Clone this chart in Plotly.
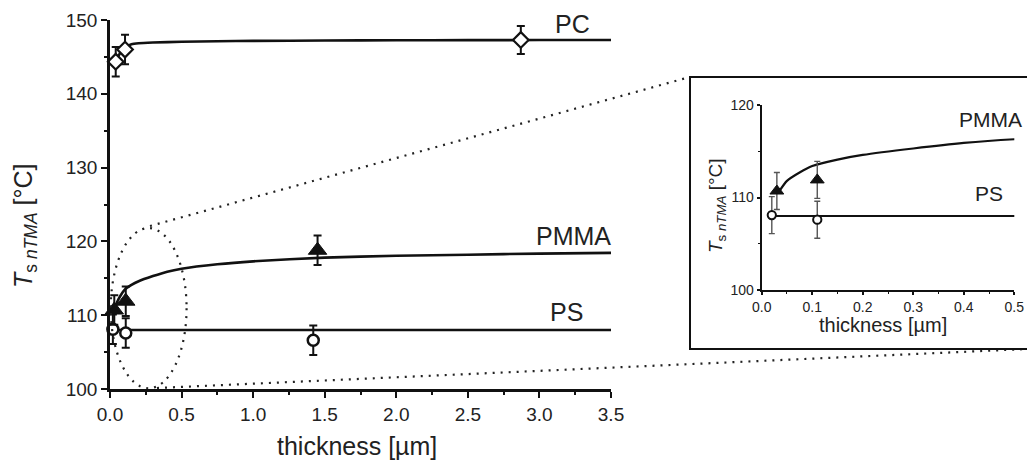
import plotly.graph_objects as go

# ---- measured softening temperatures (nano-TMA) ----
ps_x = [0.02, 0.11, 1.42]
ps_y = [108.1, 107.6, 106.6]
ps_err = [2.0, 2.0, 2.0]

pmma_x = [0.03, 0.11, 1.45]
pmma_y = [110.7, 111.9, 118.8]
pmma_err = [2.0, 2.0, 2.0]

pc_x = [0.04, 0.105, 2.87]
pc_y = [144.35, 146.0, 147.3]
pc_err = [2.0, 2.0, 1.9]

# ---- fitted curves ----
pc_fit_x = [0.04, 0.07, 0.1, 0.15, 0.2, 0.3, 0.5, 0.75, 1.0, 1.5, 2.0, 2.5, 3.0, 3.5]
pc_fit_y = [144.4, 145.5, 146.2, 146.7, 146.85, 146.95, 147.05, 147.12, 147.17,
            147.22, 147.25, 147.27, 147.28, 147.3]

pmma_fit_x = [0.035, 0.05, 0.075, 0.1, 0.15, 0.2, 0.3, 0.4, 0.5, 0.75, 1.0,
              1.5, 2.0, 2.5, 3.0, 3.5]
pmma_fit_y = [110.7, 111.8, 112.7, 113.4, 114.1, 114.6, 115.3, 115.9, 116.3,
              116.9, 117.3, 117.8, 118.05, 118.2, 118.35, 118.45]

ps_fit_x = [0.02, 3.5]
ps_fit_y = [108.0, 108.0]

main_xticks = [0.0, 0.5, 1.0, 1.5, 2.0, 2.5, 3.0, 3.5]
main_yticks = [100, 110, 120, 130, 140, 150]
inset_xticks = [0.0, 0.1, 0.2, 0.3, 0.4, 0.5]
inset_yticks = [100, 110, 120]

W, H = 1027, 465
FONT = "Liberation Sans, Arial, sans-serif"
INK = "#111111"
TXT = "#222222"


def px(v):
    return v / W


def py(v):
    return 1 - v / H


fig = go.Figure()


def add_set(xa, ya, main):
    clip = not main
    lw = 2.6 if main else 2.2
    eb_w = 2.0 if main else 1.4
    eb_c = INK if main else "#555555"
    cap = 4 if main else 3
    sc = 1.0 if main else 0.75
    # fitted lines
    for fx, fy in ((pc_fit_x, pc_fit_y), (pmma_fit_x, pmma_fit_y), (ps_fit_x, ps_fit_y)):
        fig.add_trace(go.Scatter(x=fx, y=fy, mode="lines", xaxis=xa, yaxis=ya,
                                 line=dict(color=INK, width=lw, shape="spline", smoothing=0.6),
                                 cliponaxis=True, showlegend=False, hoverinfo="skip"))
    # PS: open circles
    fig.add_trace(go.Scatter(x=ps_x, y=ps_y, mode="markers", xaxis=xa, yaxis=ya,
                             error_y=dict(type="data", array=ps_err, color=eb_c,
                                          thickness=eb_w, width=cap),
                             marker=dict(symbol="circle", size=11 * sc, color="white",
                                         line=dict(color=INK, width=2.5 if main else 2)),
                             cliponaxis=clip, showlegend=False))
    # PMMA: filled triangles
    fig.add_trace(go.Scatter(x=pmma_x, y=pmma_y, mode="markers", xaxis=xa, yaxis=ya,
                             error_y=dict(type="data", array=pmma_err, color=eb_c,
                                          thickness=eb_w, width=cap),
                             marker=dict(symbol="triangle-up", size=16 * sc, color=INK,
                                         line=dict(color=INK, width=1)),
                             cliponaxis=clip, showlegend=False))
    if main:
        # PC: open diamonds
        fig.add_trace(go.Scatter(x=pc_x, y=pc_y, mode="markers", xaxis=xa, yaxis=ya,
                                 error_y=dict(type="data", array=pc_err, color=eb_c,
                                              thickness=eb_w, width=cap),
                                 marker=dict(symbol="diamond", size=12, color="white",
                                             line=dict(color=INK, width=2.2)),
                                 cliponaxis=clip, showlegend=False))


add_set("x", "y", True)
add_set("x2", "y2", False)

axis_common = dict(showline=True, linecolor=INK, ticks="outside", tickcolor=INK,
                   showgrid=False, zeroline=False, mirror=False, automargin=False)

fig.update_layout(
    width=W, height=H,
    margin=dict(l=0, r=0, t=0, b=0, pad=0, autoexpand=False),
    paper_bgcolor="white", plot_bgcolor="rgba(0,0,0,0)",
    font=dict(family=FONT, color=TXT),
    xaxis=dict(domain=[px(110), px(611)], range=[0, 3.5], tickvals=main_xticks,
               ticktext=[f"{v:.1f}" for v in main_xticks], linewidth=2.6, ticklen=6,
               tickwidth=2, tickfont=dict(size=19, color=TXT), anchor="y",
               minor=dict(ticks="outside", dtick=0.25, ticklen=3.5, tickwidth=1.8,
                          tickcolor=INK), **axis_common),
    yaxis=dict(domain=[py(389), py(20)], range=[100, 150], tickvals=main_yticks,
               linewidth=2.6, ticklen=6, tickwidth=2, tickfont=dict(size=19, color=TXT),
               anchor="x",
               minor=dict(ticks="outside", dtick=5, ticklen=3.5, tickwidth=1.8,
                          tickcolor=INK), **axis_common),
    xaxis2=dict(domain=[px(761.7), px(1014.3)], range=[0, 0.5], tickvals=inset_xticks,
                ticktext=[f"{v:.1f}" for v in inset_xticks], linewidth=2, ticklen=3,
                tickwidth=1.6, tickfont=dict(size=14, color=TXT), anchor="y2",
                minor=dict(ticks="outside", dtick=0.05, ticklen=2, tickwidth=1.2,
                           tickcolor=INK), **axis_common),
    yaxis2=dict(domain=[py(290), py(105)], range=[100, 120], tickvals=inset_yticks,
                linewidth=2, ticklen=3, tickwidth=1.6, tickfont=dict(size=14, color=TXT),
                anchor="x2",
                minor=dict(ticks="outside", dtick=5, ticklen=2, tickwidth=1.2,
                           tickcolor=INK), **axis_common),
)

DOT = dict(color="#222222", width=2.2, dash="2px,6px")

# zoom region marker and connector lines to the inset frame
fig.add_shape(type="circle", xref="x", yref="y", x0=0.005, x1=0.535, y0=100.1, y1=121.8,
              line=DOT, layer="above")
fig.add_shape(type="line", xref="paper", yref="paper", x0=px(150), y0=py(226),
              x1=px(690), y1=py(77), line=DOT)
fig.add_shape(type="line", xref="paper", yref="paper", x0=px(157), y0=py(388),
              x1=px(1027), y1=py(349), line=DOT)
# inset frame
fig.add_shape(type="rect", xref="paper", yref="paper", x0=px(690), x1=px(1032),
              y0=py(349), y1=py(77), line=dict(color=INK, width=2))

C = dict(xanchor="center", yanchor="middle", showarrow=False)
ann = []
# axis titles
ann.append(dict(text="<i>T</i><sub>s <i>nTMA</i></sub> [°C]", textangle=-90,
                xref="paper", yref="paper", x=px(25), y=py(226),
                font=dict(size=25, color=TXT), **C))
ann.append(dict(text="thickness [µm]", xref="paper", yref="paper", x=px(357),
                y=py(446), font=dict(size=25, color=TXT), **C))
ann.append(dict(text="<i>T</i><sub>s <i>nTMA</i></sub> [°C]", textangle=-90,
                xref="paper", yref="paper", x=px(717), y=py(206),
                font=dict(size=19, color=TXT), **C))
ann.append(dict(text="thickness [µm]", xref="paper", yref="paper", x=px(883),
                y=py(325), font=dict(size=20, color=TXT), **C))
# series labels
for txt, x, y in (("PC", 3.23, 149.5), ("PMMA", 3.24, 120.7), ("PS", 3.19, 110.4)):
    ann.append(dict(text=txt, xref="x", yref="y", x=x, y=y,
                    font=dict(size=25, color=TXT), **C))
for txt, x, y in (("PMMA", 0.452, 118.4), ("PS", 0.449, 110.4)):
    ann.append(dict(text=txt, xref="x2", yref="y2", x=x, y=y,
                    font=dict(size=21, color=TXT), **C))
fig.update_layout(annotations=ann)

fig.write_html("out.html")
